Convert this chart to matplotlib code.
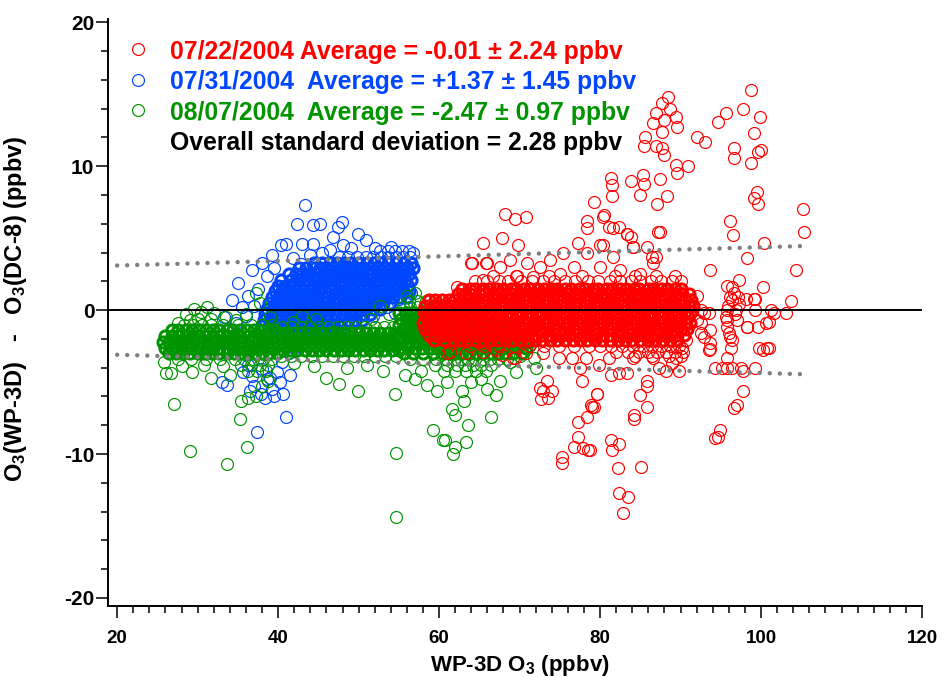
import numpy as np
import matplotlib
matplotlib.use("Agg")
import matplotlib.pyplot as plt
from matplotlib.ticker import MultipleLocator

plt.rcParams['font.family'] = ['Liberation Sans', 'DejaVu Sans']
plt.rcParams['font.weight'] = 'bold'
plt.rcParams['mathtext.fontset'] = 'custom'
plt.rcParams['mathtext.rm'] = 'Liberation Sans:bold'
plt.rcParams['mathtext.default'] = 'rm'
plt.rcParams['axes.unicode_minus'] = False

# ---------------- data ----------------
# dense cores: "y: x x x ..." rows (interior) and edge rows
red_core_rows = [
    "1.5: 62.9 63.8 64.5 65.5 66.2 67.2 67.9 68.9 69.6 70.6 71.3 72.3 73.0 74.0 74.7 75.7 76.4 77.4 78.1 79.1 79.8 80.8 81.5 82.5 83.2 84.2 84.9 85.9 86.6 87.6 88.3 89.3 90.1",
    "1.1: 62.3 63.2 63.9 64.9 65.7 66.6 67.3 68.3 69.1 69.9 70.8 71.6 72.5 73.3 74.2 74.9 75.9 76.7 77.5 78.4 79.2 80.1 80.8 81.8 82.6 83.4 84.3 85.1 86.0 86.8 87.7 88.5 89.4 90.2 91.0",
    "0.7: 58.7 59.5 60.4 61.2 62.0 62.8 63.6 64.4 65.3 66.1 67.0 67.8 68.7 69.5 70.4 71.2 72.0 72.9 73.7 74.6 75.4 76.3 77.1 78.0 78.8 79.6 80.5 81.3 82.2 83.0 83.9 84.7 85.6 86.4 87.3 88.1 88.9 89.8 90.6 91.3",
    "0.3: 58.3 59.1 59.9 60.8 61.6 62.4 63.2 64.1 64.9 65.7 66.6 67.4 68.2 69.1 69.9 70.8 71.6 72.4 73.3 74.1 75.0 75.8 76.7 77.5 78.3 79.2 80.0 80.9 81.7 82.6 83.4 84.2 85.1 85.9 86.8 87.6 88.5 89.3 90.2 91.0 91.6",
    "-0.1: 58.1 58.9 59.7 60.5 61.3 62.1 62.9 63.7 64.5 65.3 66.2 67.0 67.8 68.7 69.5 70.3 71.2 72.0 72.8 73.7 74.5 75.4 76.2 77.1 77.9 78.7 79.6 80.4 81.3 82.1 83.0 83.8 84.6 85.5 86.3 87.2 88.0 88.9 89.7 90.5 91.3",
    "-0.5: 58.4 59.2 60.0 60.9 61.7 62.5 63.3 64.1 64.9 65.8 66.6 67.4 68.3 69.1 69.9 70.8 71.6 72.4 73.3 74.1 75.0 75.8 76.6 77.5 78.3 79.2 80.0 80.8 81.7 82.5 83.4 84.2 85.0 85.9 86.7 87.6 88.4 89.3 90.1 90.9",
    "-0.9: 58.0 58.8 59.6 60.4 61.2 62.0 62.9 63.7 64.5 65.4 66.2 67.0 67.9 68.7 69.5 70.4 71.2 72.0 72.9 73.7 74.6 75.4 76.2 77.1 77.9 78.8 79.6 80.4 81.3 82.1 83.0 83.8 84.6 85.5 86.3 87.2 88.0 88.8 89.7 90.5 91.2",
    "-1.3: 58.3 59.1 59.9 60.7 61.5 62.4 63.2 64.0 64.9 65.7 66.5 67.4 68.2 69.0 69.9 70.7 71.5 72.4 73.2 74.1 74.9 75.7 76.6 77.4 78.3 79.1 79.9 80.8 81.6 82.5 83.3 84.1 85.0 85.8 86.7 87.5 88.3 89.2 90.0 90.8",
    "-1.7: 58.7 59.5 60.3 61.1 62.0 62.8 63.6 64.5 65.3 66.1 67.0 67.8 68.6 69.5 70.3 71.1 72.0 72.8 73.7 74.5 75.3 76.2 77.0 77.9 78.7 79.5 80.4 81.2 82.1 82.9 83.7 84.6 85.4 86.3 87.1 87.9 88.8 89.6 90.4",
    "-2.1: 59.4 60.6 61.7 62.6 63.5 64.4 65.4 66.3 67.2 68.2 69.1 70.0 71.0 71.9 72.8 73.8 74.7 75.6 76.6 77.5 78.4 79.4 80.3 81.2 82.2 83.1 84.0 85.0 85.9 86.8 87.8 88.7 89.6",
]
red_edge_rows = [
    "2.0: 64.4 65.9 67.4 68.6 70.2 71.5 72.9 74.3 75.6 76.9 78.5 79.8 81.2 82.5 83.9 85.0 86.3 87.6 88.9 90.0",
    "2.4: 66.7 69.5 73.6 77.8 81.9 84.4 87.0 89.3",
    "-2.5: 63.8 65.6 67.5 69.3 71.2 73.0 74.9 76.7 78.6 80.0 81.4 82.7 84.1 85.3 86.5 87.6 88.7 89.8",
    "-2.9: 82.0 83.5 84.9 86.0 87.1 88.2 89.3 90.3",
    "-3.2: 84.3 86.5 88.6 90.0",
]
red_points = [
    (58.4, -1.2), (61.0, -3.0), (61.3, -2.9), (61.7, -2.3), (60.0, -1.9), (62.2, 1.6),
    (64.0, 3.3), (66.0, 3.3), (65.4, 4.7), (67.8, 5.0), (69.8, 4.5), (64.1, 3.3), (65.8, 3.3),
    (67.6, 3.0), (68.8, 3.5), (70.9, 3.3), (72.5, 3.0), (73.8, 3.5), (75.4, 4.0), (77.2, 4.7),
    (78.4, 4.0), (80.0, 4.5), (81.6, 3.7), (83.4, 5.3), (84.1, 4.4), (85.8, 4.4), (86.9, 3.7),
    (87.5, 5.4), (76.7, 3.0), (80.0, 3.0), (82.5, 2.8), (85.0, 2.5), (75.0, 2.5), (71.7, 2.3),
    (69.7, 2.4), (65.4, 2.1), (78.4, 5.7), (80.4, 6.5), (79.2, 7.5), (81.6, 5.7), (83.9, 5.1),
    (86.6, 3.3), (68.2, 6.7), (69.4, 6.3), (70.8, 6.5), (78.4, 6.2), (86.5, 3.7),
    (88.4, 14.8), (87.7, 14.4), (88.7, 14.0), (86.9, 13.7), (89.4, 13.4), (87.9, 13.2),
    (86.6, 13.0), (89.6, 12.7), (87.7, 12.4), (85.6, 12.0), (85.4, 11.4), (86.9, 11.4),
    (87.7, 11.3), (87.9, 10.8), (92.1, 12.0), (93.1, 11.7), (89.4, 10.1), (90.9, 10.0),
    (89.6, 9.5), (95.6, 13.7), (94.6, 13.1), (97.8, 14.0), (98.8, 15.3), (96.6, 11.3),
    (96.6, 10.6), (98.7, 10.2), (99.1, 12.3), (81.3, 9.2), (81.5, 8.7), (81.5, 7.9),
    (83.8, 9.0), (85.3, 9.4), (85.4, 8.8), (85.0, 8.0), (87.4, 9.1), (88.3, 7.9), (87.1, 7.4),
    (80.5, 6.6), (81.1, 5.8), (82.4, 5.8), (83.3, 5.3), (87.2, 5.4), (80.4, 4.5), (84.1, 4.4),
    (96.2, 6.2), (96.5, 5.2), (98.3, 3.6), (93.7, 2.8), (99.1, 7.8), (99.6, 7.4), (99.6, 11.0),
    (99.9, 13.4), (100.0, 11.1), (99.5, 8.2), (105.2, 7.0), (105.3, 5.4), (100.4, 4.7),
    (104.3, 2.8), (100.3, 1.6), (99.3, 0.8), (103.7, 0.6), (101.2, 0.0), (103.1, -0.2),
    (100.6, -0.9), (101.0, -0.8), (100.2, -2.8), (101.0, -2.6), (99.3, -4.0),
    (92.5, 0.0), (93.5, -0.2), (93.5, -2.8), (94.3, -4.0), (96.4, 1.6), (97.3, 2.1),
    (95.8, 1.7), (96.4, 0.7), (96.9, 0.0), (95.8, -0.7), (96.0, -1.6), (96.4, -2.1),
    (95.8, -1.2), (98.3, -1.2), (99.1, 0.8), (101.6, -0.2), (99.6, -1.2), (99.3, 0.0),
    (95.8, 0.0), (96.1, 0.9), (97.0, -0.7), (96.3, -2.6), (96.6, 1.2), (95.9, 0.3),
    (96.2, -1.9), (96.8, -0.3), (95.6, -0.5), (97.3, 0.4), (98.1, 0.8), (97.1, 0.9),
    (92.1, 1.0), (92.9, -0.2), (92.5, -0.9), (93.7, -1.4), (93.6, -2.7), (92.9, -1.9),
    (92.1, -0.7), (92.5, -1.6), (93.7, -2.3), (95.2, -4.0), (95.8, -4.0), (96.4, -4.0),
    (97.5, -4.0), (97.7, -4.2), (95.8, -3.3), (98.3, -1.2), (99.8, -2.6), (100.7, -2.6),
    (97.8, -5.6), (97.0, -6.6), (96.6, -6.8), (94.9, -8.3), (94.3, -8.9), (94.7, -8.8),
    (72.9, -3.0), (73.4, -4.9), (72.9, -5.6), (73.5, -6.1), (72.5, -5.4), (74.0, -5.6),
    (72.6, -6.2), (77.5, -4.0), (77.8, -4.9), (79.6, -5.8), (78.9, -6.6), (78.4, -7.4),
    (77.3, -7.8), (76.7, -9.5), (77.2, -8.8), (77.9, -9.6), (78.5, -9.7), (75.3, -10.2),
    (75.3, -10.6), (81.4, -4.5), (82.4, -4.4), (83.3, -4.4), (81.4, -9.0), (81.5, -9.7),
    (82.4, -9.3), (82.2, -11.0), (85.1, -10.9), (82.4, -12.7), (83.5, -13.0), (82.9, -14.1),
    (84.2, -7.3), (84.2, -7.6), (85.0, -5.9), (85.8, -4.9), (85.8, -5.3), (85.8, -6.7),
    (88.2, -4.2), (88.9, -3.7), (89.4, -3.3), (87.3, -4.0), (81.1, -3.3), (79.9, -3.8),
    (78.3, -3.3), (76.5, -3.3), (74.9, -3.3), (70.8, -3.0), (69.2, -3.3), (67.1, -2.8),
    (65.4, -2.3), (63.4, -3.0), (84.1, -3.3), (86.6, -3.3), (90.2, -2.6), (90.7, -2.1),
    (89.8, -4.2), (65.4, -2.9), (67.8, -3.1), (69.4, -3.3), (79.2, -6.7), (78.8, -9.7),
    (79.0, -6.7), (79.6, -5.8),
]

blue_core_rows = [
    "3.3: 44.5 45.5 46.4 47.3 48.2 49.1 50.1 51.0 51.9 52.8 53.7 54.6 55.6 56.5",
    "2.9: 42.6 43.5 44.4 45.2 46.1 47.0 47.9 48.8 49.7 50.6 51.5 52.4 53.3 54.2 55.1 56.0 56.7",
    "2.5: 41.3 42.2 43.0 43.9 44.8 45.7 46.6 47.4 48.3 49.2 50.1 51.0 51.8 52.7 53.6 54.5 55.4 56.3",
    "2.1: 40.4 41.6 42.5 43.4 44.3 45.1 46.0 46.9 47.8 48.7 49.5 50.4 51.3 52.2 53.1 54.0 54.9 55.8 56.5",
    "1.7: 40.0 40.9 41.8 42.7 43.6 44.5 45.4 46.3 47.1 48.0 48.9 49.8 50.7 51.6 52.5 53.4 54.3 55.2 56.1",
    "1.3: 39.6 40.5 41.3 42.2 43.1 44.0 44.9 45.8 46.6 47.5 48.4 49.3 50.2 51.1 52.0 52.9 53.8 54.6 55.5 56.3",
    "0.9: 39.2 40.1 41.0 41.8 42.7 43.6 44.5 45.4 46.2 47.1 48.0 48.9 49.8 50.7 51.6 52.5 53.4 54.3 55.2 56.0",
    "0.5: 38.9 39.7 40.6 41.5 42.4 43.2 44.1 45.0 45.9 46.8 47.6 48.5 49.4 50.3 51.2 52.1 53.0 53.9",
    "0.1: 38.6 39.4 40.3 41.2 42.0 42.9 43.8 44.7 45.6 46.4 47.3 48.2 49.1 50.0 50.9 51.8 52.6",
    "-0.3: 38.4 39.2 40.1 41.0 41.8 42.7 43.6 44.4 45.3 46.2 47.1 48.0 48.9 49.7 50.6 51.4",
    "-0.7: 38.2 39.0 39.9 40.8 41.6 42.5 43.4 44.3 45.1 46.0 46.9 47.8 48.7 49.6 50.4",
    "-1.1: 38.0 38.9 39.7 40.6 41.5 42.3 43.2 44.1 45.0 45.9 46.7 47.6",
]
blue_edge_rows = [
    "4.1: 52.6 53.6 54.5 55.4 56.3",
    "3.7: 47.6 48.7 49.8 50.9 51.8 52.8 53.7 54.6 55.5 56.4",
    "-1.5: 38.1 39.0 39.9 40.8 41.6 42.5 43.4 44.3",
    "-1.9: 38.5 39.5 40.4 41.3",
]
blue_points = [
    (43.3, 7.3), (42.4, 6.0), (44.3, 5.9), (45.2, 6.0), (47.9, 6.1), (47.5, 5.8), (46.8, 5.1),
    (49.9, 5.3), (50.9, 4.9), (41.0, 4.6), (43.0, 4.6), (44.3, 4.6), (45.5, 4.0), (49.1, 4.3),
    (40.4, 4.5), (36.8, 2.8), (35.0, 1.9), (34.3, 0.7), (33.3, -0.5), (38.0, 3.3), (39.2, 3.8),
    (41.8, 3.6), (46.5, 4.2), (48.0, 4.5), (37.5, 1.5), (36.2, 1.0), (35.5, 0.2), (38.6, 2.4),
    (39.5, 2.9), (44.0, 3.8), (42.8, 3.2), (36.0, -0.4), (37.0, 0.3), (34.8, -0.9), (52.0, 4.3),
    (54.0, 4.4), (56.8, 4.0), (33.6, -5.2), (33.0, -5.0), (39.2, -5.5), (37.9, -5.8),
    (41.0, -7.4), (37.4, -8.5), (38.6, -4.8), (39.8, -4.3), (40.5, -3.6), (36.8, -4.6),
    (38.0, -4.1), (39.5, -6.0), (37.0, -5.3), (40.2, -5.0), (41.3, -3.0), (42.0, -2.6),
    (36.3, -3.8), (35.6, -4.3), (40.8, -2.2), (43.5, -2.0), (45.2, -1.9), (47.3, -1.6),
    (49.5, -1.2), (51.8, -0.4), (53.5, 0.2), (55.0, 0.8), (56.5, 1.2), (54.5, -0.2),
    (36.5, -5.6), (38.4, -6.1), (40.6, -5.8), (39.0, -4.7), (41.5, -4.5),
]

green_core_rows = [
    "-1.4: 26.8 27.6 28.5 29.3 30.2 31.0 31.9 32.7 33.6 34.4 35.3 36.1 37.0 37.8 38.7 39.5",
    "-1.8: 26.0 26.8 27.7 28.5 29.4 30.2 31.1 31.9 32.8 33.6 34.5 35.3 36.2 37.0 37.9 38.7 39.6",
    "-2.2: 25.7 26.5 27.3 28.2 29.0 29.9 30.7 31.6 32.4 33.3 34.1 35.0 35.8 36.7 37.5 38.4 39.2",
    "-2.6: 25.9 26.8 27.6 28.5 29.3 30.2 31.0 31.9 32.7 33.6 34.4 35.3 36.1 37.0 37.8 38.7 39.5",
    "-3.0: 26.4 27.3 28.2 29.1 30.0 30.9 31.8 32.7 33.6 34.5 35.4 36.3 37.1 38.0 38.9 39.8",
    "-1.6: 40.1 41.0 41.9 42.8 43.7 44.6 45.5 46.4 47.3 48.2 49.1 50.0 50.9 51.8 52.7 53.6 54.5",
    "-2.0: 40.5 41.4 42.3 43.2 44.1 45.0 45.9 46.8 47.7 48.6 49.5 50.4 51.3 52.2 53.1 54.0 54.9",
    "-2.4: 40.1 41.0 41.9 42.8 43.7 44.6 45.5 46.4 47.3 48.2 49.1 50.0 50.9 51.8 52.7 53.6 54.5",
    "-2.8: 40.6 41.5 42.4 43.3 44.2 45.1 46.0 46.9 47.8 48.7 49.6 50.5 51.4 52.3 53.2 54.1 55.0",
    "-0.2: 55.0 55.9 56.8 57.7 58.6 59.5 60.4",
    "-0.6: 55.3 56.2 57.1 58.0 58.9 59.8 60.7 61.6 62.6 63.8",
    "-1.0: 55.0 55.9 56.8 57.7 58.6 59.5 60.4 61.3 62.2 63.1 64.0 65.0 66.1 67.4 68.8",
    "-1.4: 55.4 56.3 57.2 58.1 59.0 59.9 60.8 61.7 62.6 63.5 64.4 65.3 66.2 67.1 68.0 69.0 70.2",
    "-1.8: 55.0 55.9 56.8 57.7 58.6 59.5 60.4 61.3 62.2 63.1 64.0 64.9 65.8 66.7 67.6 68.5 69.5 70.6",
    "-2.2: 55.4 56.3 57.2 58.1 59.0 59.9 60.8 61.7 62.6 63.5 64.4 65.3 66.2 67.1 68.0 68.9 69.9 71.0",
    "-2.6: 55.2 56.1 57.0 57.9 58.8 59.7 60.6 61.5 62.4 63.3 64.2 65.1 66.0 66.9 67.8 68.7 69.7 70.8",
    "-3.0: 55.6 56.8 58.0 59.2 60.4 61.2 62.0 62.9 63.7 64.6 65.5 66.4 67.3 68.2 69.2 70.3",
]
green_edge_rows = [
    "-1.0: 28.3 29.4 30.5 31.6 33.2 35.0 36.6 38.0 39.3",
    "-3.4: 27.5 29.2 31.0 32.8 34.6 35.8 36.9 38.1 39.2",
    "-3.8: 35.4 36.6 37.7 38.8",
    "-4.2: 36.2 37.4 38.5",
    "-1.2: 40.5 41.6 42.8 43.9 45.1 46.2 47.4 48.5 49.7 50.8 52.0 53.1 54.3",
    "-3.2: 40.3 41.6 42.9 44.2 45.5 46.8 48.1 49.4 50.7 52.0 53.3 54.6",
    "0.6: 56.2 57.3 58.4",
    "0.2: 55.5 56.4 57.3 58.2 59.1",
    "-3.4: 56.4 58.0 59.6 60.8 61.8 62.7 63.6 64.5 65.4 66.3 67.3 68.4",
    "-3.8: 59.5 61.0 62.2 63.2 64.2 65.2 66.4",
    "-4.2: 60.6 62.0 63.4 64.6 65.8",
]
green_points = [
    (27.1, -6.5), (29.1, -9.8), (33.7, -10.7), (36.1, -9.5), (35.3, -7.6), (35.4, -6.3),
    (26.1, -4.4), (26.7, -4.4), (29.3, -4.3), (31.7, -4.7), (36.2, -6.1), (37.3, -6.0),
    (38.0, -5.3), (38.7, -4.9), (54.7, -9.9), (54.6, -14.4), (59.2, -8.3), (60.5, -9.0),
    (47.6, -5.1), (49.9, -5.6), (46.0, -4.7), (54.5, -5.8), (61.6, -6.9), (62.0, -7.3),
    (63.6, -8.0), (63.1, -6.3), (60.7, -9.0), (62.0, -9.5), (61.7, -10.0), (63.4, -9.2),
    (66.4, -7.4), (67.1, -5.9), (67.6, -4.9), (72.0, -4.0), (25.8, -3.6), (28.0, -3.9),
    (30.8, -3.8), (33.2, -3.9), (34.0, -4.5), (42.0, -3.7), (44.5, -3.9), (48.5, -4.0),
    (51.0, -3.8), (53.0, -4.2), (55.8, -4.5), (57.0, -4.8), (58.5, -5.2), (57.7, -4.2),
    (59.8, -5.6), (61.0, -5.0), (64.0, -5.0), (65.2, -4.8), (66.0, -5.5), (62.8, -5.6),
    (68.8, -3.6), (70.0, -3.2), (71.3, -2.4), (72.5, -1.5), (71.8, -3.3), (69.5, -4.3),
    (57.0, 1.2), (56.0, 1.0), (52.7, 0.3), (53.8, -0.3), (51.5, -0.6), (37.2, 1.2),
    (37.7, 0.5), (36.0, -0.3), (33.5, -0.5), (34.8, -0.7), (28.6, -0.3), (29.5, 0.1),
    (30.4, -0.1), (31.2, 0.2), (32.0, -0.2), (30.0, -0.6), (31.7, -0.6), (29.0, -0.7),
    (27.6, -0.9), (41.8, -0.8), (43.0, -0.4), (44.7, -0.6), (39.0, -0.5), (65.0, -0.2),
    (66.5, 0.3), (64.0, 0.5), (62.5, 0.1),
]

# +/- band (dotted grey lines), end points
band_x = [20.0, 105.0]
band_upper = [3.1, 4.45]
band_lower = [-3.1, -4.45]

legend_labels = [
    "07/22/2004 Average = -0.01 \u00b1 2.24 ppbv",
    "07/31/2004  Average = +1.37 \u00b1 1.45 ppbv",
    "08/07/2004  Average = -2.47 \u00b1 0.97 ppbv",
]
overall_label = "Overall standard deviation = 2.28 ppbv"

RED, BLUE, GREEN = "#ff0000", "#0046ff", "#009400"


def rows_xy(rows):
    xs, ys = [], []
    for r in rows:
        yv, xv = r.split(":")
        for v in xv.split():
            xs.append(float(v))
            ys.append(float(yv))
    return np.array(xs), np.array(ys)


def pts_xy(pts):
    a = np.array(pts, dtype=float)
    return a[:, 0], a[:, 1]


W, H = 944, 677
fig = plt.figure(figsize=(W / 100, H / 100), dpi=100)
ax = fig.add_axes([108.3 / W, (H - 605.8) / H, (922 - 108.3) / W, (605.8 - 19.5) / H])

MS = 8.6
thin = dict(marker='o', linestyle='none', markersize=MS, markerfacecolor='none', markeredgewidth=0.85)
dense = dict(marker='o', linestyle='none', markersize=MS - 0.6, markerfacecolor='none', markeredgewidth=2.2)

z = 3
for core, edge, pts, col in ((blue_core_rows, blue_edge_rows, blue_points, BLUE),
                             (green_core_rows, green_edge_rows, green_points, GREEN),
                             (red_core_rows, red_edge_rows, red_points, RED)):
    px, py = pts_xy(pts)
    ex, ey = rows_xy(edge)
    ax.plot(np.concatenate([px, ex]), np.concatenate([py, ey]), markeredgecolor=col, **thin, zorder=z)
    cx, cy = rows_xy(core)
    ax.plot(cx, cy, markeredgecolor=col, **dense, zorder=z + 0.5)
    z += 1

ax.axhline(0, color='black', lw=1.4, zorder=7)
for yy in (band_upper, band_lower):
    ax.plot(band_x, yy, color='#808080', lw=3.2, linestyle=(0, (0.01, 2.25)),
            dash_capstyle='round', zorder=8)

ax.set_xlim(18.9, 120)
ax.set_ylim(-20.55, 20.2)
ax.spines['top'].set_visible(False)
ax.spines['right'].set_visible(False)
for s in ('left', 'bottom'):
    ax.spines[s].set_linewidth(1.4)
ax.xaxis.set_major_locator(MultipleLocator(20))
ax.xaxis.set_minor_locator(MultipleLocator(2))
ax.yaxis.set_major_locator(MultipleLocator(10))
ax.yaxis.set_minor_locator(MultipleLocator(2))
ax.tick_params(axis='both', which='major', length=8.6, width=1.1, direction='out')
ax.tick_params(axis='both', which='minor', length=5, width=1.1, direction='out')
ax.tick_params(axis='x', which='major', labelsize=13.5, pad=9)
ax.tick_params(axis='y', which='major', labelsize=15, pad=1.5)
for lab in ax.get_xticklabels() + ax.get_yticklabels():
    lab.set_fontweight('bold')

fig.text(520 / W, 1 - 670.5 / H, "WP-3D O$_3$ (ppbv)", ha='center', va='baseline',
         fontsize=16, fontweight='bold')
fig.text(16 / W, 1 - 309 / H, "O$_3$(WP-3D)   -   O$_3$(DC-8) (ppbv)", rotation=90,
         ha='center', va='center', fontsize=17, fontweight='bold')

# legend block
rows_y = [49.3, 79.7, 110.3, 140.8]
for lab, col, yp in zip(legend_labels, (RED, BLUE, GREEN), rows_y):
    fig.add_artist(plt.Line2D([137.7 / W], [1 - yp / H], marker='o', markersize=MS,
                              markerfacecolor='none', markeredgecolor=col,
                              markeredgewidth=0.85, linestyle='none'))
    fig.text(170.5 / W, 1 - yp / H, lab, color=col, ha='left', va='center_baseline',
             fontsize=17.8, fontweight='bold')
fig.text(170.5 / W, 1 - rows_y[3] / H, overall_label, color='black', ha='left',
         va='center_baseline', fontsize=17.8, fontweight='bold')

fig.savefig("out.png", dpi=100)
